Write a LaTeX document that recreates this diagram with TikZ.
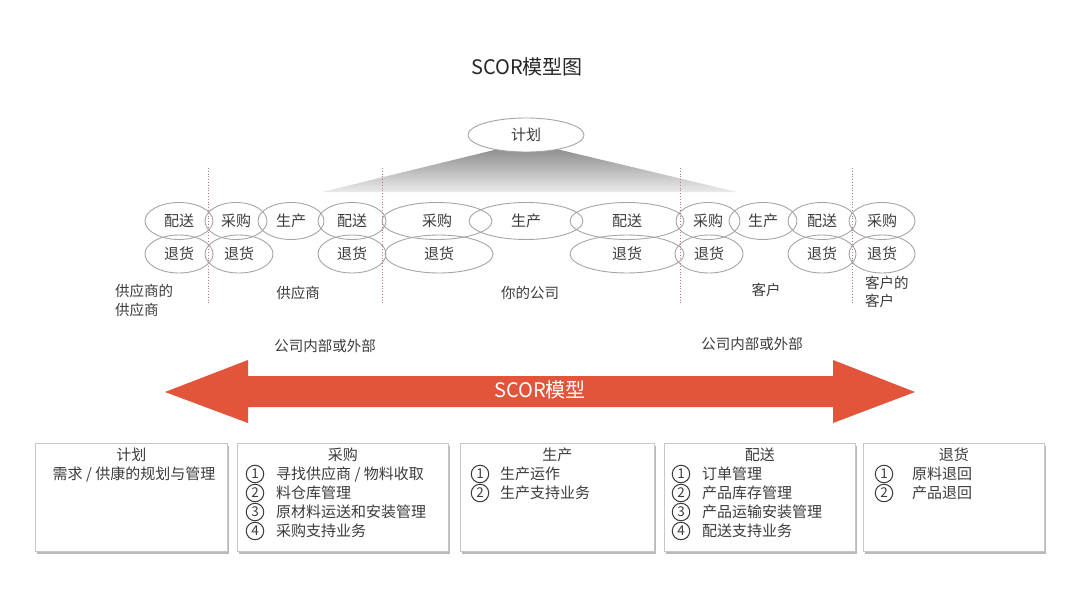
\documentclass[tikz,border=0pt]{standalone}
\usepackage{fontspec}
\setmainfont{Noto Sans CJK SC}
\usetikzlibrary{shapes.geometric,shadows}
\definecolor{scorred}{RGB}{226,85,58}
\definecolor{ovalgray}{RGB}{165,165,165}
\definecolor{txtgray}{RGB}{60,60,60}

\begin{document}
\begin{tikzpicture}[
  x=1pt, y=-1pt,
  oval/.style={draw=ovalgray, line width=0.9pt, ellipse, inner sep=0pt, text=txtgray, font=\fontsize{15}{17}\selectfont},
  lbl/.style={text=txtgray, inner sep=0pt, font=\fontsize{14.5}{19}\selectfont},
  card/.style={draw=black!22, fill=white, line width=0.6pt, inner sep=0pt,
    drop shadow={shadow xshift=1.2pt, shadow yshift=-2.4pt, fill=black!45, opacity=0.6}},
  item/.style={text=txtgray, inner sep=0pt, font=\fontsize{15}{19}\selectfont},
  num/.style={circle, draw=txtgray, line width=1pt, minimum size=17.5pt, inner sep=0pt,
    text=txtgray, font=\fontsize{13.5}{13.5}\selectfont},
  divider/.style={draw=red!30!gray!80, dotted, line width=0.8pt}
]
\useasboundingbox (0,0) rectangle (1080,608);

% ---- title ----
\node[text=black!85, font=\fontsize{20}{22}\selectfont] (title) at (527,67) {SCOR模型图};

% ---- plan wedge and dividers ----
\shade[top color=black!50, bottom color=black!8] (322,192) -- (527,142) -- (737,192) -- cycle;
\foreach \x in {208, 382, 680, 852}
  \draw[divider] (\x,168) -- (\x,305);
\node[oval, fill=white, minimum width=116, minimum height=34] (plan) at (526,135) {计划};

% ---- process ovals: top row ----
\foreach \n/\x/\rx/\t in {p1/179/34/配送, p2/236/31/采购, p3/291/33/生产, p4/352/34/配送,
  p5/437/55/采购, p6/526/57/生产, p7/627/57/配送, p8/708/32/采购, p9/763/34/生产,
  p10/822/34/配送, p11/882/33/采购}
  \node[oval, minimum width=2*\rx, minimum height=37] (\n) at (\x,221) {\t};

% ---- process ovals: return row ----
\foreach \n/\x/\rx in {r1/179/34, r2/239/34, r3/352/34, r4/439/54, r5/627/57,
  r6/709/34, r7/822/34, r8/882/33}
  \node[oval, minimum width=2*\rx, minimum height=38] (\n) at (\x,254) {退货};

% ---- chain members ----
\node[lbl, align=left, anchor=north west] (supsup) at (115,284) {供应商的\\供应商};
\node[lbl] (sup) at (298,293) {供应商};
\node[lbl] (firm) at (530,293) {你的公司};
\node[lbl] (cust) at (766,290) {客户};
\node[lbl, align=left, anchor=north west, font=\fontsize{14.5}{18}\selectfont] (custcust) at (865,276) {客户的\\客户};

\node[lbl] (inout1) at (325,346) {公司内部或外部};
\node[lbl] (inout2) at (752,344) {公司内部或外部};

% ---- big arrow ----
\fill[scorred] (165,392) -- (248,360) -- (248,376) -- (833,376) -- (833,360) -- (915,392)
  -- (833,423) -- (833,407) -- (248,407) -- (248,423) -- cycle;
\node[text=white, font=\fontsize{20}{22}\selectfont] (scor) at (540,390) {SCOR模型};

% ---- process cards ----
\foreach \n/\l/\r/\t in {bplan/35/227/计划, bsource/237/448/采购, bmake/460/654/生产,
  bdeliver/664/855/配送, breturn/863/1044/退货}
{
  \node[card, anchor=north west, minimum width=\r-\l, minimum height=108] (\n) at (\l,443) {};
  \path (\n.north) ++(0,12) node[item] (\n-t) {\t};
}

\node[item] (bplan-d) at (134,474) {需求 / 供康的规划与管理};

\foreach \k/\t in {1/{寻找供应商 / 物料收取}, 2/料仓库管理, 3/原材料运送和安装管理, 4/采购支持业务}
{
  \node[num] (bsource-n\k) at (255,474+19*\k-19) {\k};
  \node[item, anchor=west] (bsource-i\k) at (276,474+19*\k-19) {\t};
}

\foreach \k/\t in {1/生产运作, 2/生产支持业务}
{
  \node[num] (bmake-n\k) at (480,474+19*\k-19) {\k};
  \node[item, anchor=west] (bmake-i\k) at (500,474+19*\k-19) {\t};
}

\foreach \k/\t in {1/订单管理, 2/产品库存管理, 3/产品运输安装管理, 4/配送支持业务}
{
  \node[num] (bdeliver-n\k) at (681,474+19*\k-19) {\k};
  \node[item, anchor=west] (bdeliver-i\k) at (702,474+19*\k-19) {\t};
}

\foreach \k/\t in {1/原料退回, 2/产品退回}
{
  \node[num] (breturn-n\k) at (884,474+19*\k-19) {\k};
  \node[item, anchor=west] (breturn-i\k) at (912,474+19*\k-19) {\t};
}
\end{tikzpicture}
\end{document}
